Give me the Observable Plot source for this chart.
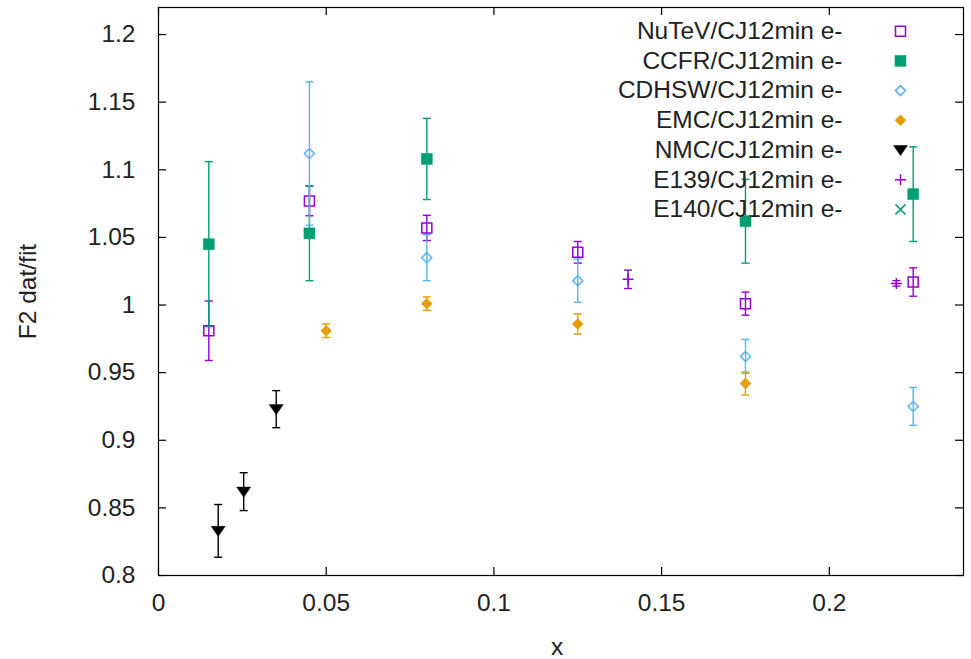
<!DOCTYPE html>
<html>
<head>
<meta charset="utf-8">
<script src="https://cdn.jsdelivr.net/npm/d3@7"></script>
<script src="https://cdn.jsdelivr.net/npm/@observablehq/plot@0.6"></script>
<style>
  body { margin: 0; background: #fff; }
  svg { font-family: "Liberation Sans", Arial, sans-serif; }
</style>
</head>
<body>
<div id="chart"></div>
<script>
// ---- data ----
const seriesNames = ["NuTeV/CJ12min e-", "CCFR/CJ12min e-", "CDHSW/CJ12min e-", "EMC/CJ12min e-", "NMC/CJ12min e-", "E139/CJ12min e-", "E140/CJ12min e-"];
const seriesColors = ["#9400D3", "#009E73", "#56B4E9", "#E69F00", "#000000", "#9400D3", "#009E73"];

const nutevX = [0.015, 0.045, 0.08, 0.125, 0.175, 0.225];
const nutevY = [0.981, 1.077, 1.057, 1.039, 1.001, 1.017];
const nutevErr = [0.022, 0.011, 0.0093, 0.008, 0.0085, 0.0105];

const ccfrX = [0.015, 0.045, 0.08, 0.175, 0.225];
const ccfrY = [1.045, 1.053, 1.108, 1.062, 1.082];
const ccfrErr = [0.061, 0.035, 0.030, 0.031, 0.035];

const cdhswX = [0.045, 0.08, 0.125, 0.175, 0.225];
const cdhswY = [1.112, 1.035, 1.018, 0.962, 0.925];
const cdhswErr = [0.053, 0.017, 0.016, 0.0125, 0.014];

const emcX = [0.05, 0.08, 0.125, 0.175];
const emcY = [0.981, 1.001, 0.986, 0.942];
const emcErr = [0.005, 0.005, 0.0075, 0.0085];

const nmcX = [0.0178, 0.0254, 0.0351];
const nmcY = [0.833, 0.862, 0.923];
const nmcErr = [0.0195, 0.014, 0.0137];

const e139X = [0.14, 0.22];
const e139Y = [1.019, 1.016];
const e139Err = [0.0068, 0.002];

const e140X = [];
const e140Y = [];
const e140Err = [];

const xTicks = [0, 0.05, 0.1, 0.15, 0.2];
const xTickLabels = ["0", "0.05", "0.1", "0.15", "0.2"];
const yTicks = [0.8, 0.85, 0.9, 0.95, 1, 1.05, 1.1, 1.15, 1.2];
const yTickLabels = ["0.8", "0.85", "0.9", "0.95", "1", "1.05", "1.1", "1.15", "1.2"];

// ---- symbols (gnuplot-like) ----
const rad = s => Math.sqrt(s / Math.PI);
const symSquare = {draw(c, s) { const r = rad(s); c.rect(-r, -r, 2 * r, 2 * r); }};
const symDiamond = {draw(c, s) { const r = rad(s); c.moveTo(0, -r); c.lineTo(r, 0); c.lineTo(0, r); c.lineTo(-r, 0); c.closePath(); }};
const symTriDown = {draw(c, s) { const r = rad(s); c.moveTo(-r, -r * 0.65); c.lineTo(r, -r * 0.65); c.lineTo(0, r * 0.8); c.closePath(); }};
const symPlus = {draw(c, s) { const r = rad(s); c.moveTo(-r, 0); c.lineTo(r, 0); c.moveTo(0, -r); c.lineTo(0, r); }};
const symTimes = {draw(c, s) { const r = rad(s); c.moveTo(-r, -r); c.lineTo(r, r); c.moveTo(-r, r); c.lineTo(r, -r); }};
const symCap = {draw(c, s) { const r = rad(s); c.moveTo(-r, 0); c.lineTo(r, 0); }};

const styles = [
  {symbol: symSquare, filled: false, r: 5},
  {symbol: symSquare, filled: true, r: 5.5},
  {symbol: symDiamond, filled: false, r: 5},
  {symbol: symDiamond, filled: true, r: 5.5},
  {symbol: symTriDown, filled: true, r: 7},
  {symbol: symPlus, filled: false, r: 5.5},
  {symbol: symTimes, filled: false, r: 5}
];

const seriesData = [
  [nutevX, nutevY, nutevErr],
  [ccfrX, ccfrY, ccfrErr],
  [cdhswX, cdhswY, cdhswErr],
  [emcX, emcY, emcErr],
  [nmcX, nmcY, nmcErr],
  [e139X, e139Y, e139Err],
  [e140X, e140Y, e140Err]
];

const W = 971, H = 659;
const mL = 158, mR = 8, mT = 7, mB = 84;
const innerW = W - mL - mR, innerH = H - mT - mB;
const tick = 8;
const font = 24.5;
const textColor = "#222";

const marks = [];

// frame and inward ticks
marks.push(Plot.frame({stroke: "#000", strokeWidth: 1.2}));
marks.push(Plot.ruleX(xTicks, {insetTop: innerH - tick, stroke: "#000", strokeWidth: 1.2}));
marks.push(Plot.ruleX(xTicks, {insetBottom: innerH - tick, stroke: "#000", strokeWidth: 1.2}));
marks.push(Plot.ruleY(yTicks, {insetRight: innerW - tick, stroke: "#000", strokeWidth: 1.2}));
marks.push(Plot.ruleY(yTicks, {insetLeft: innerW - tick, stroke: "#000", strokeWidth: 1.2}));

// axes labels
marks.push(Plot.axisX({ticks: xTicks, tickFormat: d => xTickLabels[xTicks.indexOf(d)], tickSize: 0, tickPadding: 18, fontSize: font, fill: textColor, label: null}));
marks.push(Plot.axisY({ticks: yTicks, tickFormat: d => yTickLabels[yTicks.indexOf(d)], tickSize: 0, tickPadding: 23, fontSize: font, fill: textColor, label: null}));
marks.push(Plot.text(["x"], {frameAnchor: "bottom", dx: -4, dy: 72, fontSize: font, fill: textColor, lineAnchor: "middle"}));
marks.push(Plot.text(["F2 dat/fit"], {frameAnchor: "left", dx: -130, dy: 0, rotate: -90, textAnchor: "middle", fontSize: font, fill: textColor, lineAnchor: "middle"}));

// series
seriesData.forEach(([xs, ys, es], i) => {
  const color = seriesColors[i];
  const st = styles[i];
  const data = xs.map((x, j) => ({x, y: ys[j], lo: ys[j] - es[j], hi: ys[j] + es[j]}));
  marks.push(Plot.ruleX(data, {x: "x", y1: "lo", y2: "hi", stroke: color, strokeWidth: 1.4}));
  marks.push(Plot.dot(data, {x: "x", y: "lo", symbol: symCap, r: 4, stroke: color, strokeWidth: 1.4, fill: "none"}));
  marks.push(Plot.dot(data, {x: "x", y: "hi", symbol: symCap, r: 4, stroke: color, strokeWidth: 1.4, fill: "none"}));
  marks.push(Plot.dot(data, {x: "x", y: "y", symbol: st.symbol, r: st.r,
    fill: st.filled ? color : "none", stroke: color, strokeWidth: st.filled ? 0.5 : 1.5}));
});

// legend
const legTop = 23.7, legStep = 29.7;
seriesNames.forEach((name, i) => {
  const color = seriesColors[i];
  const st = styles[i];
  const dy = legTop + i * legStep;
  marks.push(Plot.text([name], {frameAnchor: "top-right", dx: -121, dy, textAnchor: "end", lineAnchor: "middle", fontSize: font, fill: textColor}));
  marks.push(Plot.dot([name], {frameAnchor: "top-right", dx: -63, dy, symbol: st.symbol, r: st.r,
    fill: st.filled ? color : "none", stroke: color, strokeWidth: st.filled ? 0.5 : 1.5}));
});

const chart = Plot.plot({
  width: W,
  height: H,
  marginLeft: mL,
  marginRight: mR,
  marginTop: mT,
  marginBottom: mB,
  style: {fontFamily: "'Liberation Sans', Arial, sans-serif", background: "#fff"},
  x: {domain: [0, 0.24]},
  y: {domain: [0.8, 1.22]},
  marks
});
document.getElementById("chart").appendChild(chart);
</script>
</body>
</html>
